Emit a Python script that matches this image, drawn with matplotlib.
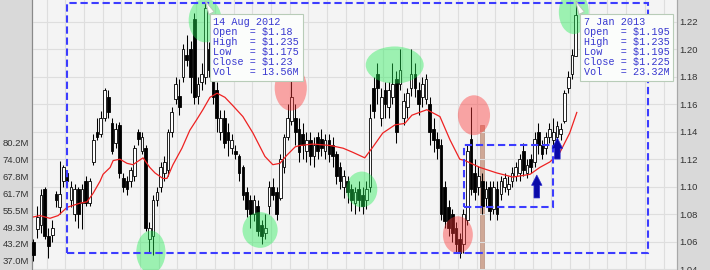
import numpy as np
import matplotlib
matplotlib.use("Agg")
import matplotlib.pyplot as plt
from matplotlib.patches import Ellipse, Rectangle, FancyArrow

# ---- data (trading day index, prices in $) ----
opens = [1.060,1.069,1.072,1.098,1.064,1.065,1.095,1.085,1.104,1.110,
         1.090,1.080,1.098,1.088,1.104,1.088,1.118,1.140,1.138,1.150,
         1.165,1.146,1.132,1.145,1.106,1.104,1.104,1.108,1.140,1.126,
         1.128,1.062,1.064,1.090,1.100,1.110,1.112,1.140,1.164,1.166,
         1.180,1.196,1.200,1.222,1.166,1.176,1.180,1.200,1.178,1.170,
         1.140,1.150,1.140,1.128,1.126,1.122,1.114,1.096,1.090,1.080,
         1.086,1.072,1.066,1.086,1.100,1.096,1.092,1.114,1.136,1.148,
         1.150,1.142,1.138,1.126,1.134,1.122,1.136,1.135,1.126,1.134,
         1.130,1.124,1.114,1.100,1.104,1.098,1.088,1.098,1.094,1.090,
         1.100,1.172,1.182,1.150,1.170,1.158,1.165,1.178,1.175,1.150,
         1.158,1.172,1.182,1.170,1.165,1.164,1.160,1.142,1.135,1.130,
         1.100,1.085,1.080,1.070,1.062,1.058,1.076,1.135,1.110,1.100,
         1.104,1.092,1.100,1.084,1.098,1.095,1.100,1.098,1.104,1.108,
         1.110,1.126,1.110,1.120,1.118,1.140,1.130,1.128,1.136,1.134,
         1.136,1.138,1.148,1.172,1.182,1.195]
highs = [1.062,1.086,1.098,1.100,1.070,1.076,1.097,1.119,1.116,1.112,
         1.104,1.102,1.100,1.102,1.108,1.106,1.138,1.150,1.155,1.172,
         1.170,1.150,1.146,1.147,1.110,1.108,1.114,1.130,1.142,1.140,
         1.130,1.074,1.094,1.100,1.118,1.122,1.142,1.158,1.180,1.178,
         1.204,1.210,1.206,1.226,1.180,1.190,1.235,1.205,1.182,1.176,
         1.156,1.156,1.146,1.138,1.130,1.124,1.116,1.100,1.094,1.094,
         1.090,1.076,1.080,1.104,1.106,1.100,1.124,1.138,1.160,1.178,
         1.160,1.150,1.146,1.140,1.140,1.136,1.140,1.142,1.138,1.138,
         1.136,1.126,1.118,1.112,1.108,1.102,1.100,1.104,1.100,1.104,
         1.160,1.180,1.190,1.172,1.176,1.176,1.190,1.184,1.200,1.168,
         1.172,1.200,1.190,1.176,1.180,1.182,1.165,1.150,1.140,1.135,
         1.104,1.090,1.084,1.074,1.066,1.084,1.130,1.158,1.120,1.115,
         1.110,1.104,1.104,1.104,1.104,1.108,1.110,1.108,1.114,1.118,
         1.124,1.132,1.120,1.124,1.140,1.146,1.134,1.140,1.146,1.150,
         1.148,1.146,1.170,1.184,1.200,1.235]
lows = [1.046,1.063,1.066,1.062,1.048,1.060,1.085,1.080,1.100,1.100,
        1.085,1.075,1.070,1.069,1.086,1.086,1.116,1.134,1.136,1.148,
        1.150,1.124,1.128,1.106,1.096,1.094,1.100,1.104,1.130,1.124,
        1.068,1.052,1.050,1.086,1.096,1.104,1.108,1.136,1.160,1.152,
        1.176,1.188,1.168,1.160,1.160,1.170,1.175,1.180,1.160,1.140,
        1.134,1.128,1.122,1.124,1.120,1.104,1.090,1.078,1.070,1.075,
        1.064,1.058,1.062,1.080,1.090,1.076,1.090,1.110,1.134,1.145,
        1.130,1.118,1.120,1.118,1.116,1.114,1.120,1.122,1.120,1.118,
        1.114,1.102,1.098,1.092,1.088,1.082,1.080,1.082,1.080,1.084,
        1.096,1.150,1.160,1.144,1.150,1.150,1.160,1.132,1.170,1.145,
        1.150,1.166,1.165,1.152,1.158,1.160,1.130,1.125,1.120,1.076,
        1.070,1.064,1.060,1.052,1.048,1.052,1.072,1.094,1.090,1.094,
        1.080,1.086,1.076,1.080,1.076,1.090,1.096,1.094,1.100,1.104,
        1.104,1.108,1.106,1.110,1.114,1.124,1.120,1.124,1.132,1.130,
        1.126,1.134,1.146,1.168,1.178,1.195]
closes = [1.050,1.078,1.094,1.064,1.057,1.070,1.090,1.095,1.114,1.104,
          1.100,1.098,1.080,1.098,1.088,1.104,1.134,1.136,1.150,1.170,
          1.154,1.126,1.142,1.110,1.100,1.098,1.112,1.128,1.135,1.136,
          1.070,1.070,1.090,1.096,1.114,1.118,1.140,1.154,1.175,1.158,
          1.200,1.192,1.180,1.165,1.175,1.182,1.230,1.185,1.165,1.150,
          1.150,1.132,1.134,1.134,1.124,1.110,1.094,1.084,1.080,1.090,
          1.068,1.064,1.070,1.100,1.094,1.080,1.120,1.136,1.150,1.165,
          1.140,1.125,1.130,1.134,1.122,1.130,1.126,1.128,1.134,1.124,
          1.122,1.108,1.104,1.108,1.096,1.090,1.096,1.090,1.086,1.098,
          1.150,1.155,1.172,1.165,1.160,1.170,1.175,1.140,1.185,1.162,
          1.168,1.182,1.172,1.160,1.175,1.178,1.140,1.134,1.128,1.080,
          1.075,1.070,1.066,1.058,1.052,1.080,1.126,1.098,1.096,1.108,
          1.086,1.098,1.082,1.100,1.080,1.104,1.106,1.102,1.110,1.114,
          1.120,1.112,1.116,1.114,1.135,1.130,1.124,1.136,1.142,1.140,
          1.144,1.142,1.168,1.180,1.196,1.225]

# moving average
ma_x = [0,1.7,4.4,6.6,9.0,12.4,14.3,15.9,17.8,18.6,20.5,21.3,23.1,25.0,26.6,29.3,
        31.1,32.5,34.6,35.7,37.3,39.7,41.8,43.7,45.3,47.2,49.1,51.2,53.3,56.0,58.7,
        61.9,64.0,65.9,67.8,70.0,71.3,74.7,79.3,82.8,85.4,88.6,90.8,93.4,96.7,99.3,
        101.2,105.2,106.6,108.7,111.4,114.0,115.4,119.4,123.9,128.2,132.8,135.4,
        138.1,140.8,143.4,145.3]
ma_y = [1.078,1.079,1.077,1.079,1.085,1.088,1.089,1.095,1.104,1.109,1.114,1.119,
        1.120,1.117,1.116,1.121,1.114,1.110,1.106,1.106,1.116,1.128,1.141,1.149,
        1.156,1.165,1.168,1.165,1.159,1.151,1.139,1.122,1.116,1.117,1.123,1.129,
        1.130,1.131,1.130,1.128,1.125,1.121,1.129,1.139,1.145,1.146,1.152,1.156,
        1.154,1.151,1.134,1.120,1.119,1.114,1.110,1.107,1.109,1.114,1.118,1.125,
        1.139,1.154]

vol_day = [120]
vol_val = [86.5]          # M, the only volume bar tall enough to show
vol_ticks = [37.0, 43.2, 49.3, 55.5, 61.7, 67.8, 74.0, 80.2]
price_ticks = [1.04, 1.06, 1.08, 1.10, 1.12, 1.14, 1.16, 1.18, 1.20, 1.22]

note_days = [46, 145]
note_dates = ['14 Aug 2012', '7 Jan 2013']
note_vols = ['13.56M', '23.32M']

W, H = 710, 270
fig = plt.figure(figsize=(W/100, H/100), dpi=100, facecolor='#d9d9d9')
axv = fig.add_axes([32/W, 0, 645/W, 1])
ax = axv.twinx()
axv.set_facecolor('#f4f4f4')

days = np.arange(len(closes))
axv.set_xlim(-0.4, 172.1)
ax.set_ylim(1.0394, 1.2358)
axv.set_ylim(33.7, 132.3)

# grid
axv.set_xticks(np.arange(3.5, 172, 5))
axv.tick_params(axis='x', length=0, labelbottom=False)
axv.grid(axis='x', color='#dedede', lw=0.8)
ax.set_yticks(price_ticks)
ax.grid(axis='y', color='#dedede', lw=0.8)
ax.set_axisbelow(True)

ax.set_yticklabels([f'{p:.2f}' for p in price_ticks])
axv.set_yticks(vol_ticks)
axv.set_yticklabels([f'{v:.1f}M' for v in vol_ticks])
for a in (ax, axv):
    a.tick_params(axis='y', length=0, pad=2, labelsize=6.8, labelcolor='#333333')
    for lab in a.get_yticklabels():
        lab.set_family('Liberation Sans')
    for s in ('top', 'bottom'):
        a.spines[s].set_visible(False)
    a.spines['left'].set_color('#8a8a8a')
    a.spines['right'].set_color('#a8a8a8')

# volume (only the spike reaches into view)
axv.bar(vol_day, vol_val, width=1.0, bottom=0, color='#cfa896', ec='#b89080', lw=0.5, zorder=1)

# candles
o = np.array(opens); c = np.array(closes)
up = c >= o
ax.vlines(days, lows, highs, color='black', lw=0.75, zorder=3)
ax.bar(days[up], (c - o)[up], bottom=o[up], width=0.72, color='white', ec='black', lw=0.6, zorder=4)
ax.bar(days[~up], (o - c)[~up], bottom=c[~up], width=0.72, color='black', ec='black', lw=0.6, zorder=4)

ax.plot(ma_x, ma_y, color='#ee2222', lw=0.9, zorder=5)

# highlight ellipses
green = [(31.4, 1.0525, 7.8, 0.031), (60.6, 1.0685, 9.4, 0.026), (87.8, 1.098, 8.3, 0.026),
         (96.6, 1.1885, 15.5, 0.027), (45.9, 1.221, 8.8, 0.032), (144.5, 1.227, 8.0, 0.032)]
red = [(68.8, 1.1718, 8.6, 0.033), (117.8, 1.152, 8.6, 0.029), (113.5, 1.065, 8.0, 0.027)]
for x, y, w, h in green:
    ax.add_patch(Ellipse((x, y), w, h, fc='#22ee55', alpha=0.42, ec='none', zorder=6))
for x, y, w, h in red:
    ax.add_patch(Ellipse((x, y), w, h, fc='#ff3333', alpha=0.42, ec='none', zorder=6))

# dashed boxes
for x0, x1, y0, y1 in [(9.0, 164.3, 1.0518, 1.2336), (115.1, 138.9, 1.0852, 1.1303)]:
    ax.add_patch(Rectangle((x0, y0), x1 - x0, y1 - y0, fill=False, ec='#3c3cff',
                           lw=1.5, ls=(0, (3.5, 1.8)), zorder=7))

# blue arrows
for x, y0, y1 in [(134.6, 1.0918, 1.1085), (140.1, 1.1201, 1.1354)]:
    ax.add_patch(FancyArrow(x, y0, 0, y1 - y0, width=1.5, head_width=2.8,
                            head_length=0.0075, length_includes_head=True,
                            fc='#0a0aa8', ec='#2a2ad0', lw=0.5, zorder=7))

# callouts
for d, dt, v in zip(note_days, note_dates, note_vols):
    txt = (f"{dt}\nOpen  = ${opens[d]:g}\nHigh  = ${highs[d]:g}\n"
           f"Low   = ${lows[d]:g}\nClose = ${closes[d]:g}\nVol   = {v}")
    ax.annotate(txt, xy=(d, highs[d]), xytext=(8, -16), textcoords='offset pixels',
                ha='left', va='top', family='Liberation Mono', fontsize=7.3,
                color='#3838d0', linespacing=1.0, zorder=8,
                bbox=dict(boxstyle='square,pad=0.35', fc='#fbfdfb', ec='#b8ccb8', lw=0.8),
                arrowprops=dict(arrowstyle='wedge,tail_width=0.6', fc='#fbfdfb',
                                ec='#b8ccb8', lw=0.8, shrinkA=0, shrinkB=0, relpos=(0, 1)))

fig.savefig('out.png', dpi=100, facecolor=fig.get_facecolor())
